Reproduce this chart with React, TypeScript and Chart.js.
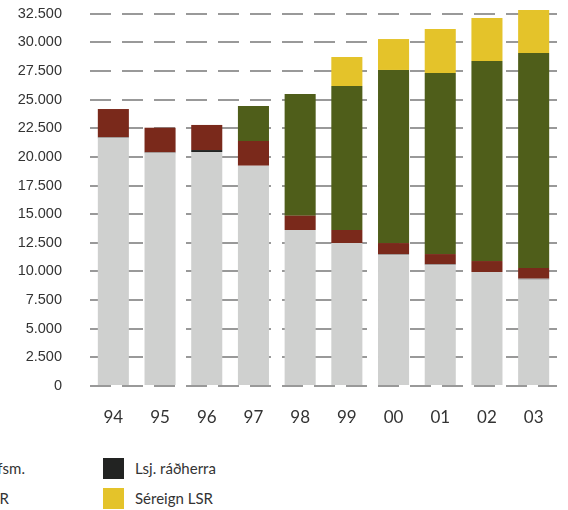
import React, { useEffect, useRef } from "react";
import { Chart, registerables } from "chart.js";

Chart.register(...registerables);

const categories = ["94", "95", "96", "97", "98", "99", "00", "01", "02", "03"];
const bDeild = [21620, 20310, 20430, 19230, 13620, 12480, 11410, 10540, 9950, 9280];
const starfsm = [90, 90, 0, 0, 0, 0, 90, 90, 0, 90];
const radherra = [0, 0, 170, 0, 0, 0, 0, 0, 0, 0];
const hjukrun = [2470, 2150, 2190, 2160, 1250, 1140, 980, 890, 960, 930];
const aDeild = [0, 0, 0, 3050, 10620, 12570, 15110, 15800, 17460, 18770];
const sereign = [0, 0, 0, 0, 0, 2530, 2700, 3850, 3760, 3750];
const yTicks = [0, 2500, 5000, 7500, 10000, 12500, 15000, 17500, 20000, 22500, 25000, 27500, 30000, 32500];

const legendItems = [
  { label: "Lsj. starfsm.", color: "#8c8c8c", col: 1, row: 0 },
  { label: "A-deild LSR", color: "#4f5e1a", col: 1, row: 1 },
  { label: "Lsj. ráðherra", color: "#222322", col: 2, row: 0 },
  { label: "Séreign LSR", color: "#e4c32a", col: 2, row: 1 },
];

function fmt(v: number): string {
  return String(v).replace(/\B(?=(\d{3})+(?!\d))/g, ".");
}

export default function App() {
  const ref = useRef<HTMLCanvasElement | null>(null);

  useEffect(() => {
    if (!ref.current) return;
    const chart = new Chart(ref.current, {
      type: "bar",
      data: {
        labels: categories,
        datasets: [
          { label: "B-deild LSR", data: bDeild, backgroundColor: "#cfd0cf" },
          { label: "Lsj. starfsm.", data: starfsm, backgroundColor: "#8c8c8c" },
          { label: "Lsj. ráðherra", data: radherra, backgroundColor: "#222322" },
          { label: "Lsj. hjúkrunarfr.", data: hjukrun, backgroundColor: "#7a291b" },
          { label: "A-deild LSR", data: aDeild, backgroundColor: "#4f5e1a" },
          { label: "Séreign LSR", data: sereign, backgroundColor: "#e4c32a" },
        ].map((d) => ({ ...d, borderWidth: 0, categoryPercentage: 1, barPercentage: 0.665 })),
      },
      options: {
        responsive: false,
        animation: false,
        devicePixelRatio: 1,
        layout: { padding: { left: 0, right: 11, top: 8, bottom: 0 } },
        plugins: { legend: { display: false }, tooltip: { enabled: false } },
        scales: {
          x: {
            stacked: true,
            grid: { display: false },
            border: { display: false },
            ticks: {
              color: "#333333",
              font: { family: "Lato", size: 17 },
              padding: 13,
            },
            afterFit: (s: any) => {
              s.height = 44;
            },
          },
          y: {
            stacked: true,
            min: 0,
            max: 33000,
            afterBuildTicks: (s: any) => {
              s.ticks = yTicks.map((v) => ({ value: v }));
            },
            grid: { color: "#999999", lineWidth: 2, drawTicks: false },
            border: { display: false, dash: [21, 11] },
            ticks: {
              color: "#333333",
              font: { family: "Liberation Sans, Arial, sans-serif", size: 14.5 },
              padding: 28,
              callback: (v: any) => fmt(Number(v)),
            },
            afterFit: (s: any) => {
              s.width = 90;
              s.paddingTop = 0;
              s.paddingBottom = 0;
            },
          },
        },
      },
    });
    return () => chart.destroy();
  }, []);

  return (
    <div
      style={{
        position: "fixed",
        left: 0,
        top: 0,
        width: 568,
        height: 510,
        overflow: "hidden",
        background: "#ffffff",
      }}
    >
      <canvas ref={ref} width={568} height={430} style={{ position: "absolute", left: 0, top: 0 }} />
      {legendItems.map((it) => {
        const swatchX = 103 + (it.col - 2) * 210;
        const y = 458 + it.row * 30;
        const textRight = it.col === 1 ? (it.row === 0 ? 25 : 9) : null;
        return (
          <React.Fragment key={it.label}>
            <div
              style={{
                position: "absolute",
                left: swatchX,
                top: y,
                width: 21,
                height: 21,
                background: it.color,
              }}
            />
            {textRight !== null ? (
              <div
                style={{
                  position: "absolute",
                  left: textRight - 200,
                  width: 200,
                  top: y,
                  height: 21,
                  lineHeight: "21px",
                  textAlign: "right",
                  fontFamily: "Lato",
                  fontSize: 15,
                  color: "#333333",
                  whiteSpace: "nowrap",
                }}
              >
                {it.label}
              </div>
            ) : (
              <div
                style={{
                  position: "absolute",
                  left: 135,
                  top: y,
                  height: 21,
                  lineHeight: "21px",
                  fontFamily: "Lato",
                  fontSize: 15,
                  color: "#333333",
                  whiteSpace: "nowrap",
                }}
              >
                {it.label}
              </div>
            )}
          </React.Fragment>
        );
      })}
    </div>
  );
}
